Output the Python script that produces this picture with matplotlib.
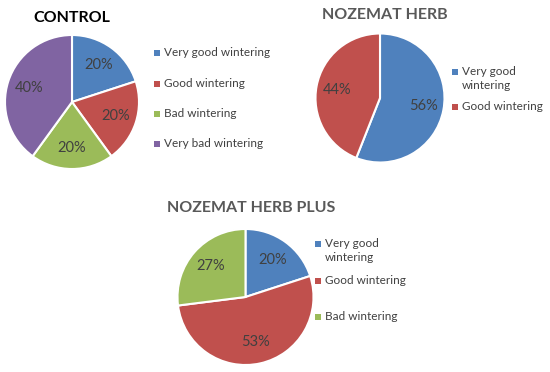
"""
Three pie charts: wintering quality of bee colonies (control vs Nozemat Herb vs Nozemat Herb Plus).
"""

import matplotlib
matplotlib.use("Agg")
import matplotlib.pyplot as plt

plt.rcParams["font.family"] = ["Lato", "DejaVu Sans"]

# data
control_labels = ["Very good wintering", "Good wintering", "Bad wintering", "Very bad wintering"]
control_values = [20, 20, 20, 40]

herb_labels = ["Very good\nwintering", "Good wintering"]
herb_values = [56, 44]

plus_labels = ["Very good\nwintering", "Good wintering", "Bad wintering"]
plus_values = [20, 53, 27]

colors = ["#4F81BD", "#C0504D", "#9BBB59", "#8064A2"]

# layout in pixels (y down)
charts = [
    dict(title="CONTROL", title_color="black", title_xy=(72, 18),
         values=control_values, labels=control_labels, center=(72, 102), radius=67,
         leg_x=157, leg_y=[53, 84, 114, 144]),
    dict(title="NOZEMAT HERB", title_color="#595959", title_xy=(385, 15),
         values=herb_values, labels=herb_labels, center=(380, 98), radius=64.5,
         leg_x=455, leg_y=[72, 107]),
    dict(title="NOZEMAT HERB PLUS", title_color="#595959", title_xy=(251, 208),
         values=plus_values, labels=plus_labels, center=(245.5, 297), radius=68,
         leg_x=318, leg_y=[244, 281, 317]),
]

fig = plt.figure(figsize=(5.5, 3.72), dpi=100)
ax = fig.add_axes([0, 0, 1, 1])
ax.set_xlim(0, 550)
ax.set_ylim(372, 0)
ax.set_aspect("equal")
ax.axis("off")

for ch in charts:
    n = len(ch["values"])
    # y axis is inverted, so start at -90 and go counterclockwise to get
    # 12 o'clock / clockwise on screen
    wedges, texts, autotexts = ax.pie(
        ch["values"], colors=colors[:n], startangle=-90, counterclock=True,
        center=ch["center"], radius=ch["radius"], autopct="%.0f%%", pctdistance=0.68,
        wedgeprops=dict(edgecolor="white", linewidth=1.5),
        textprops=dict(color="#404040", fontsize=10.5),
    )
    ax.text(ch["title_xy"][0], ch["title_xy"][1], ch["title"], color=ch["title_color"],
            fontsize=11.5, fontweight="bold", ha="center", va="center")
    for i, (lab, y) in enumerate(zip(ch["labels"], ch["leg_y"])):
        ax.scatter([ch["leg_x"]], [y], marker="s", s=14, color=colors[i], linewidths=0)
        ax.text(ch["leg_x"] + 7, y - 6, lab, color="#404040", fontsize=8.5,
                ha="left", va="top", linespacing=1.35)

# pie() resets limits in data coords; re-apply
ax.set_xlim(0, 550)
ax.set_ylim(372, 0)

fig.savefig("out.png", dpi=100)
